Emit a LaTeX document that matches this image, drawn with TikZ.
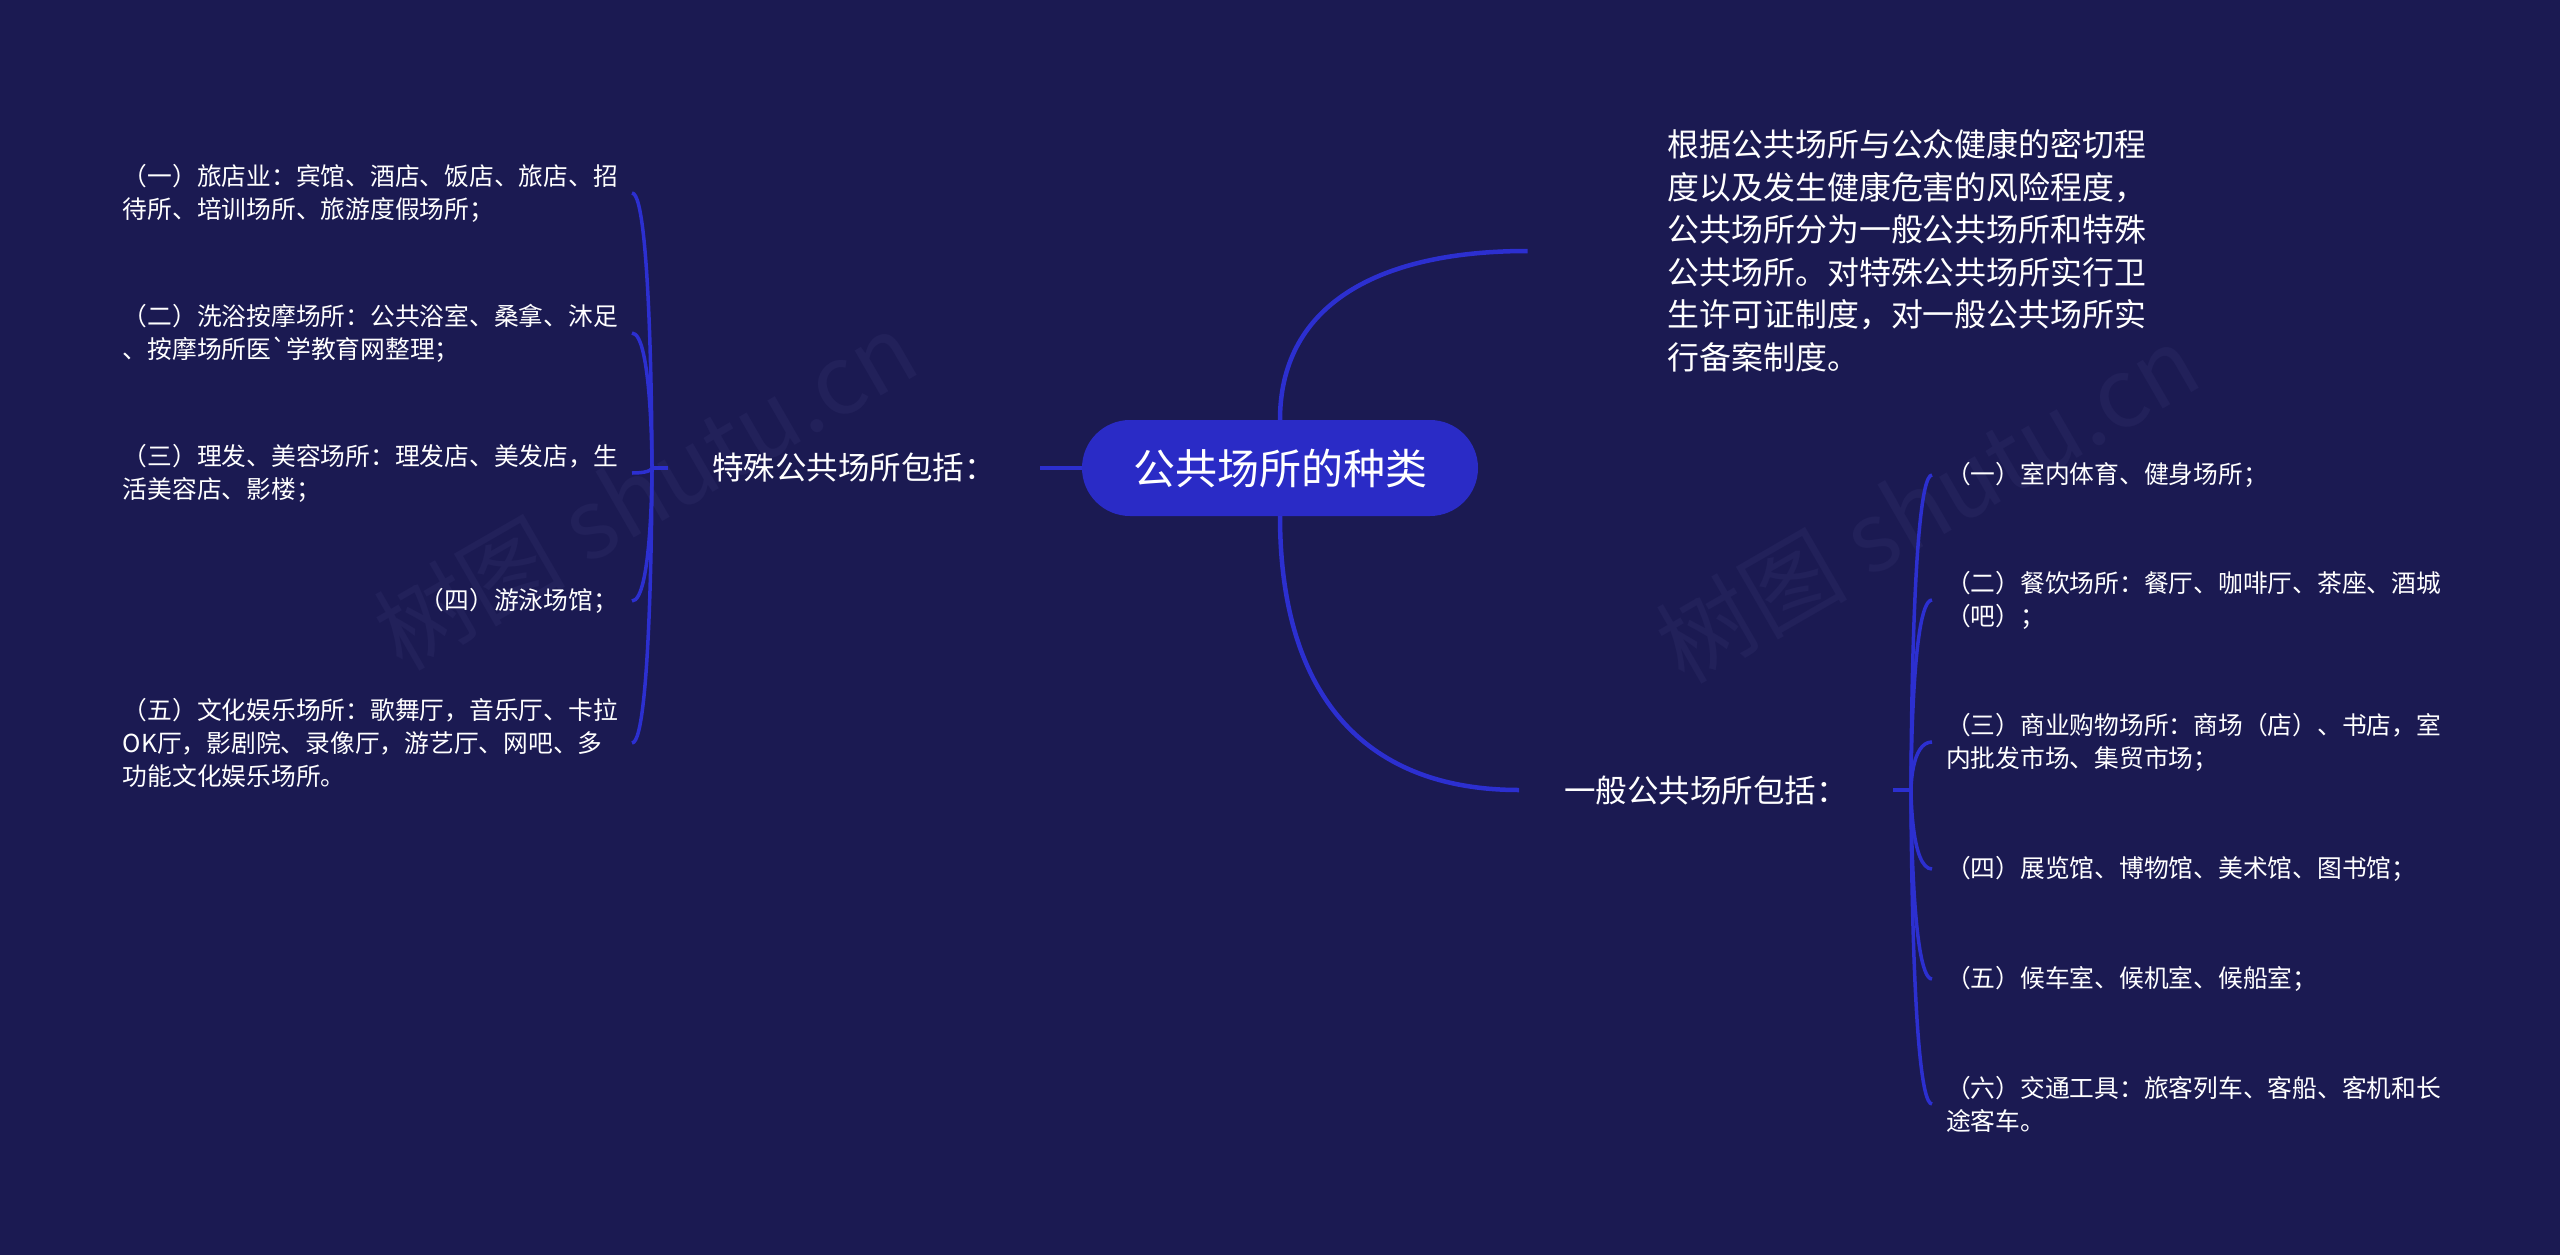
\documentclass[tikz,border=0pt]{standalone}
\usepackage{fontspec}
\usepackage{xcolor}
\usepackage{tikz}
\usetikzlibrary{calc}
\newfontfamily\cjk{Noto Sans CJK SC}
\definecolor{bgnavy}{HTML}{1B1A52}
\definecolor{linkblue}{HTML}{2C2FD0}
\definecolor{rootblue}{HTML}{2A2BC6}
\definecolor{wmgray}{HTML}{22215A}

\begin{document}
\begin{tikzpicture}[x=1pt,y=-1pt,
  trunk/.style={draw=linkblue,line width=4.5pt},
  twig/.style={draw=linkblue,line width=3.5pt},
  topic/.style={text=white,font=\cjk\fontsize{31.5}{36}\selectfont,inner ysep=10pt},
  leaf/.style={text=white,align=left,font=\cjk\fontsize{24.75}{33}\selectfont,inner xsep=14pt,inner ysep=6pt},
  wmark/.style={text=wmgray,font=\cjk\fontsize{96}{96}\selectfont,rotate=30}]
\useasboundingbox (0,0) rectangle (2560,1255);
\fill[bgnavy] (0,0) rectangle (2560,1255);
\node[wmark] (wml) at (645,490) {树图 shutu.cn};
\node[wmark] (wmr) at (1927,503) {树图 shutu.cn};

\node[fill=rootblue,text=white,rounded corners=48pt,minimum width=396pt,minimum height=96pt,
  font=\cjk\fontsize{42}{48}\selectfont] (root) at (1280,468) {公共场所的种类};
\node[topic,inner xsep=44pt] (special) at (854,468) {特殊公共场所包括：};
\node[topic,inner xsep=45pt] (general) at (1706,790) {一般公共场所包括：};
\node[text=white,align=left,inner xsep=140pt,font=\cjk\fontsize{31.9}{42.5}\selectfont] (intro) at (1907,251)
  {根据公共场所与公众健康的密切程\\度以及发生健康危害的风险程度，\\公共场所分为一般公共场所和特殊\\公共场所。对特殊公共场所实行卫\\生许可证制度，对一般公共场所实\\行备案制度。};

\node[leaf,anchor=east] (s1) at (632,193) {（一）旅店业：宾馆、酒店、饭店、旅店、招\\待所、培训场所、旅游度假场所；};
\node[leaf,anchor=east] (s2) at (632,333) {（二）洗浴按摩场所：公共浴室、桑拿、沐足\\、按摩场所医\textasciigrave 学教育网整理；};
\node[leaf,anchor=east] (s3) at (632,473) {（三）理发、美容场所：理发店、美发店，生\\活美容店、影楼；};
\node[leaf,anchor=east] (s4) at (632,601) {（四）游泳场馆；};
\node[leaf,anchor=east] (s5) at (632,743) {（五）文化娱乐场所：歌舞厅，音乐厅、卡拉\\OK厅，影剧院、录像厅，游艺厅、网吧、多\\功能文化娱乐场所。};

\node[leaf,anchor=west] (g1) at (1932,475) {（一）室内体育、健身场所；};
\node[leaf,anchor=west] (g2) at (1932,600) {（二）餐饮场所：餐厅、咖啡厅、茶座、酒城\\（吧）；};
\node[leaf,anchor=west] (g3) at (1932,742) {（三）商业购物场所：商场（店）、书店，室\\内批发市场、集贸市场；};
\node[leaf,anchor=west] (g4) at (1932,869) {（四）展览馆、博物馆、美术馆、图书馆；};
\node[leaf,anchor=west] (g5) at (1932,979) {（五）候车室、候机室、候船室；};
\node[leaf,anchor=west] (g6) at (1932,1104) {（六）交通工具：旅客列车、客船、客机和长\\途客车。};

\draw[trunk] (root.west) -- (special.east);
\draw[trunk] (root.north) .. controls (1280,310) and (1370,251) .. (intro.west);
\draw[trunk] (root.south) .. controls (1280,690) and (1360,790) .. (general.west);

\coordinate (ls) at (652,468);
\coordinate (rs) at (1911,790);
\draw[twig] (special.west) -- (ls);
\foreach \n in {s1,s2,s3,s4,s5}
  \draw[twig] (ls) .. controls (ls) and (ls |- \n.east) .. (\n.east);
\draw[twig] (general.east) -- (rs);
\foreach \n in {g1,g2,g3,g4,g5,g6}
  \draw[twig] (rs) .. controls (rs) and (rs |- \n.west) .. (\n.west);
\end{tikzpicture}
\end{document}
